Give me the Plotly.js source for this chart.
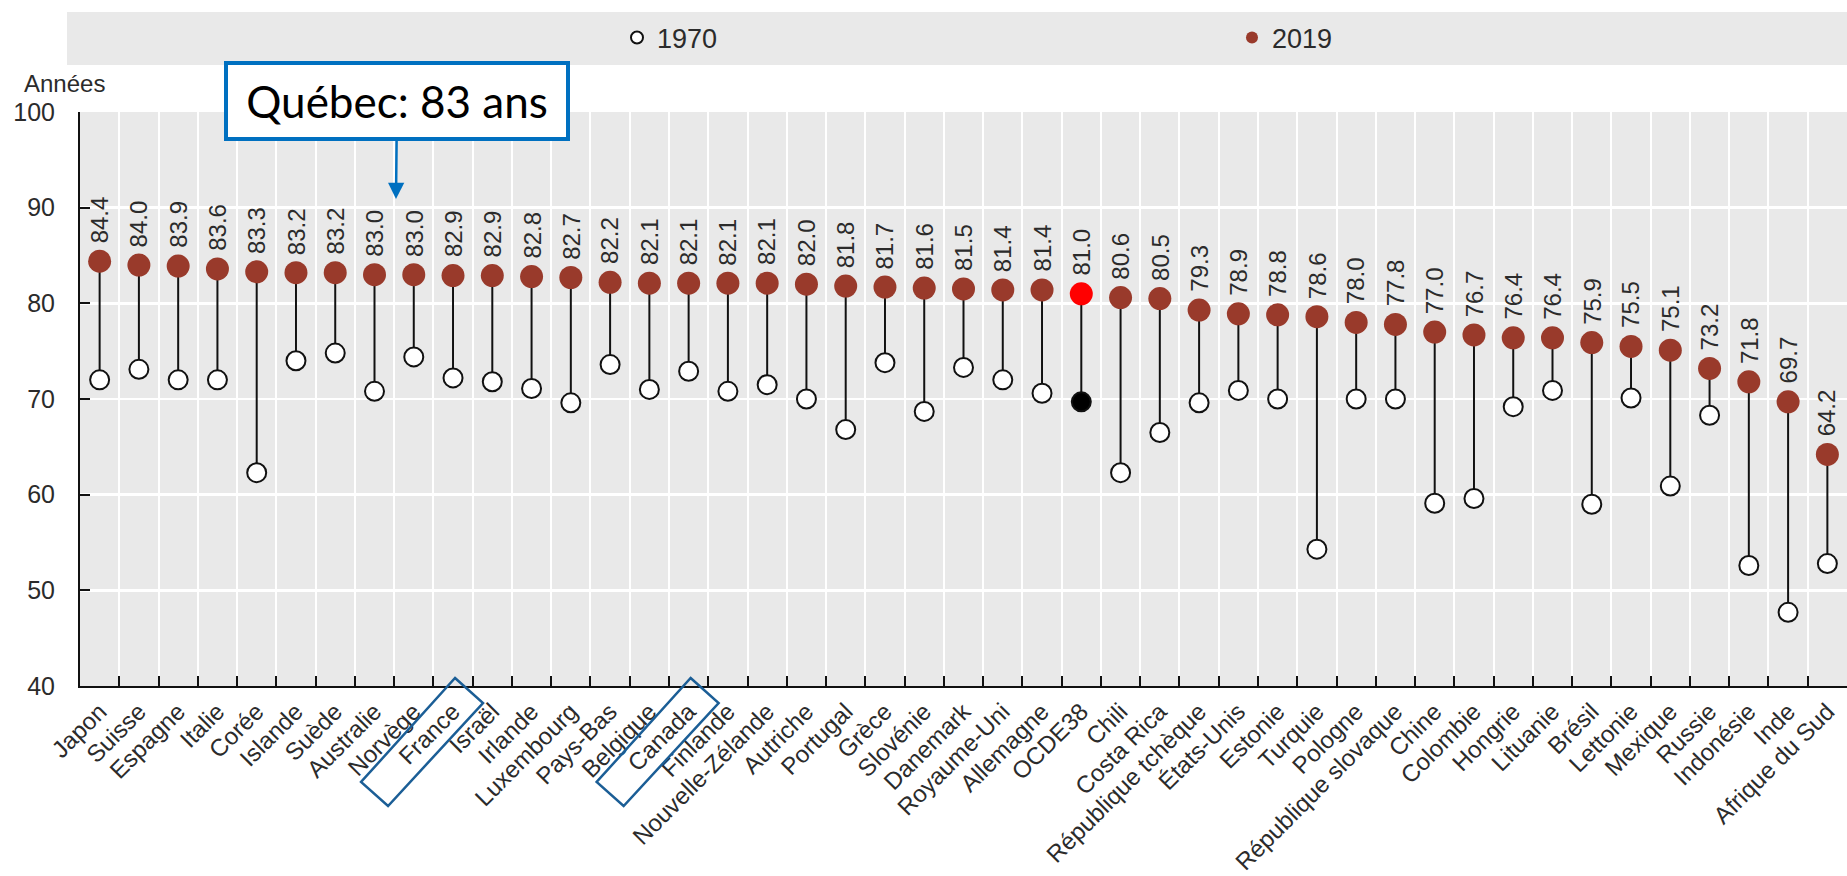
<!DOCTYPE html>
<html>
<head>
<meta charset="utf-8">
<script src="https://cdn.plot.ly/plotly-3.0.1.min.js"></script>
<style>
  html, body { margin: 0; padding: 0; background: #ffffff; }
  #chart { width: 1847px; height: 876px; }
</style>
</head>
<body>
<div id="chart"></div>
<script>
// Espérance de vie à la naissance, 1970 et 2019
const countries = [
  'Japon', 'Suisse', 'Espagne', 'Italie', 'Corée', 'Islande', 'Suède', 'Australie',
  'Norvège', 'France', 'Israël', 'Irlande', 'Luxembourg', 'Pays-Bas', 'Belgique',
  'Canada', 'Finlande', 'Nouvelle-Zélande', 'Autriche', 'Portugal', 'Grèce',
  'Slovénie', 'Danemark', 'Royaume-Uni', 'Allemagne', 'OCDE38', 'Chili',
  'Costa Rica', 'République tchèque', 'États-Unis', 'Estonie', 'Turquie',
  'Pologne', 'République slovaque', 'Chine', 'Colombie', 'Hongrie', 'Lituanie',
  'Brésil', 'Lettonie', 'Mexique', 'Russie', 'Indonésie', 'Inde', 'Afrique du Sud'
];

const life1970 = [
  72.0, 73.1, 72.0, 72.0, 62.3, 74.0, 74.8, 70.8,
  74.4, 72.2, 71.8, 71.1, 69.6, 73.6, 71.0,
  72.9, 70.8, 71.5, 70.0, 66.8, 73.8,
  68.7, 73.3, 72.0, 70.6, 69.7, 62.3,
  66.5, 69.6, 70.9, 70.0, 54.3,
  70.0, 70.0, 59.1, 59.6, 69.2, 70.9,
  59.0, 70.1, 60.9, 68.3, 52.6, 47.7, 52.8
];

const life2019 = [
  84.4, 84.0, 83.9, 83.6, 83.3, 83.2, 83.2, 83.0,
  83.0, 82.9, 82.9, 82.8, 82.7, 82.2, 82.1,
  82.1, 82.1, 82.1, 82.0, 81.8, 81.7,
  81.6, 81.5, 81.4, 81.4, 81.0, 80.6,
  80.5, 79.3, 78.9, 78.8, 78.6,
  78.0, 77.8, 77.0, 76.7, 76.4, 76.4,
  75.9, 75.5, 75.1, 73.2, 71.8, 69.7, 64.2
];

const seriesNames = ['1970', '2019'];
const yTicks = [40, 50, 60, 70, 80, 90, 100];
const oecdName = 'OCDE38';
const boxedCountries = ['France', 'Canada'];
const calloutText = 'Québec: 83 ans';
const yUnit = 'Années';

// Page geometry
const W = 1847, H = 876;
const M = { l: 80, r: 0, t: 112, b: 190 };
const plotW = W - M.l - M.r;
const plotH = H - M.t - M.b;
const px2x = px => (px - M.l) / plotW;
const px2y = py => (H - M.b - py) / plotH;
const catCenterPx = i => M.l + plotW * (i + 0.5) / countries.length;

const FONT = 'Liberation Sans, Arial, Helvetica, sans-serif';
const TXT = '#2b2b2b';
const BROWN = '#993a2b';

// Colours per point: the OECD average stands out
const col2019 = countries.map(c => c === oecdName ? '#ff0000' : BROWN);
const col1970 = countries.map(c => c === oecdName ? '#000000' : '#ffffff');

// Connecting segments 1970 -> 2019
const segX = [], segY = [];
countries.forEach((c, i) => {
  segX.push(c, c, null);
  segY.push(life1970[i], life2019[i], null);
});

const traces = [
  {
    type: 'scatter', mode: 'lines', x: segX, y: segY,
    line: { color: '#111111', width: 2 },
    hoverinfo: 'skip', showlegend: false
  },
  {
    type: 'scatter', mode: 'markers', name: seriesNames[0],
    x: countries, y: life1970,
    marker: { size: 19, color: col1970, line: { color: '#111111', width: 2 } }
  },
  {
    type: 'scatter', mode: 'markers', name: seriesNames[1],
    x: countries, y: life2019,
    marker: { size: 23, color: col2019, line: { width: 0 } }
  }
];

// Value labels above the 2019 markers
const valueLabels = countries.map((c, i) => ({
  x: c, y: life2019[i], xref: 'x', yref: 'y',
  text: life2019[i].toFixed(1),
  textangle: -90, showarrow: false,
  xanchor: 'center', yanchor: 'bottom', yshift: 17,
  borderpad: 0,
  font: { family: FONT, size: 24, color: TXT }
}));

// Rotated frames around selected category labels
const frameShapes = boxedCountries.map(name => {
  const cx = catCenterPx(countries.indexOf(name));
  const axisY = H - M.b;
  const pts = [
    [cx + 2, axisY - 8],
    [cx + 30, axisY + 17],
    [cx - 65, axisY + 120],
    [cx - 92, axisY + 96]
  ];
  const path = 'M ' + pts.map(p => px2x(p[0]).toFixed(5) + ',' + px2y(p[1]).toFixed(5)).join(' L ') + ' Z';
  return {
    type: 'path', xref: 'paper', yref: 'paper', path: path,
    line: { color: '#1b5e96', width: 2.5 }, fillcolor: 'rgba(0,0,0,0)', layer: 'above'
  };
});

const layout = {
  width: W, height: H,
  margin: M,
  paper_bgcolor: '#ffffff',
  plot_bgcolor: '#e9e9e9',
  font: { family: FONT, color: TXT },
  showlegend: true,
  legend: {
    orientation: 'h',
    x: px2x(617), xanchor: 'left',
    y: px2y(38), yanchor: 'middle',
    bgcolor: 'rgba(0,0,0,0)',
    itemsizing: 'constant',
    entrywidthmode: 'pixels', entrywidth: 570,
    font: { family: FONT, size: 27, color: TXT }
  },
  xaxis: {
    type: 'category',
    categoryorder: 'array', categoryarray: countries,
    range: [-0.5, countries.length - 0.5], autorange: false,
    tickson: 'boundaries',
    ticks: 'inside', ticklen: 10, tickwidth: 2, tickcolor: '#111111',
    showline: true, linecolor: '#111111', linewidth: 2,
    showgrid: true, gridcolor: '#ffffff', gridwidth: 2,
    tickangle: -45,
    tickfont: { family: FONT, size: 24, color: TXT },
    fixedrange: true
  },
  yaxis: {
    range: [40, 100], autorange: false,
    tickvals: yTicks,
    ticks: 'inside', ticklen: 10, tickwidth: 2, tickcolor: '#111111',
    showline: true, linecolor: '#111111', linewidth: 2,
    showgrid: true, gridcolor: '#ffffff', gridwidth: 2.5,
    zeroline: false,
    ticklabelstandoff: 18,
    tickfont: { family: FONT, size: 25, color: TXT },
    fixedrange: true
  },
  shapes: [
    // legend band
    {
      type: 'rect', xref: 'paper', yref: 'paper',
      x0: px2x(67), x1: px2x(W), y0: px2y(65), y1: px2y(12),
      fillcolor: '#e9e9e9', line: { width: 0 }, layer: 'below'
    }
  ].concat(frameShapes),
  annotations: valueLabels.concat([
    {
      xref: 'paper', yref: 'paper', x: px2x(64), y: px2y(83),
      text: yUnit, showarrow: false, xanchor: 'center', yanchor: 'middle',
      borderpad: 0,
      font: { family: FONT, size: 24, color: TXT }
    },
    {
      xref: 'paper', yref: 'paper',
      x: px2x(396), y: px2y(199),
      axref: 'pixel', ayref: 'pixel', ax: 1, ay: -98,
      text: calloutText, showarrow: true,
      arrowhead: 2, arrowsize: 1.3, arrowwidth: 2.5, arrowcolor: '#0070c0',
      standoff: 0, startstandoff: 0,
      width: 338, height: 72, borderpad: 0, borderwidth: 4,
      bordercolor: '#0070c0', bgcolor: '#ffffff',
      font: { family: 'Lato, Open Sans, sans-serif', size: 44, color: '#000000' }
    }
  ])
};

Plotly.newPlot('chart', traces, layout, { displayModeBar: false, staticPlot: true });
</script>
</body>
</html>
